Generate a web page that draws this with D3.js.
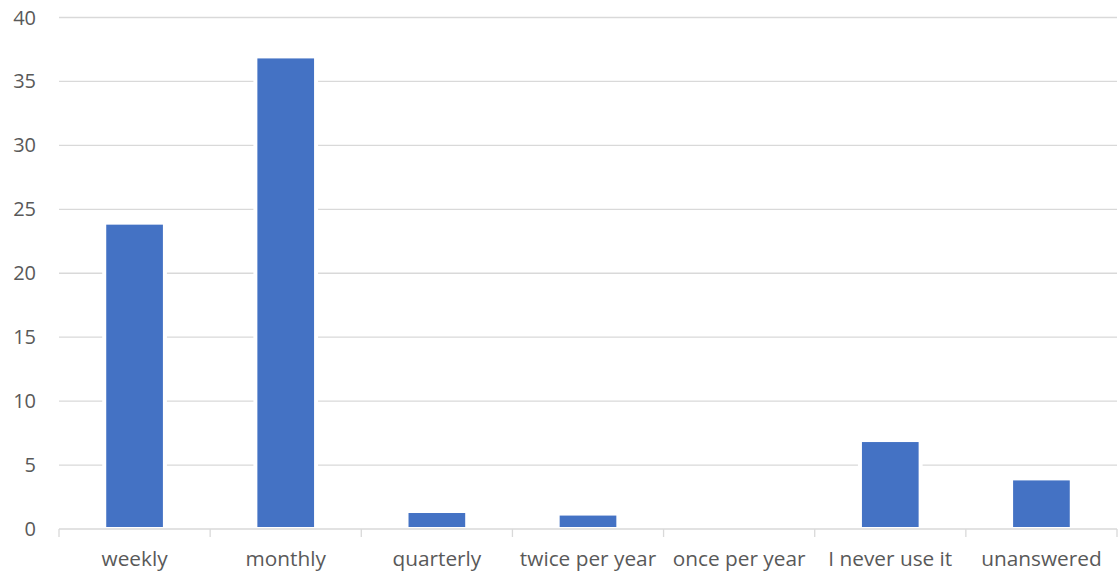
<!DOCTYPE html>
<html><head><meta charset="utf-8">
<script src="https://cdn.jsdelivr.net/npm/d3@7"></script>
<style>html,body{margin:0;padding:0;background:#fff;}svg{display:block;}</style>
</head><body>
<script>
const categories = ["weekly","monthly","quarterly","twice per year","once per year","I never use it","unanswered"];
const values = [23.8, 36.8, 1.25, 1.05, 0, 6.8, 3.8];
const yTicks = [0,5,10,15,20,25,30,35,40];

const W = 1119, H = 580;
const svg = d3.select("body").append("svg").attr("width", W).attr("height", H);
const font = "'Open Sans', sans-serif";

const x = d3.scaleBand().domain(categories).range([59, 1117]).paddingInner(0.625).paddingOuter(0.3125);
const y = d3.scaleLinear().domain([0, 40]).range([529, 17.5]);

// gridlines
svg.append("g").selectAll("line").data(yTicks.filter(d => d > 0)).join("line")
  .attr("x1", 59).attr("x2", 1117)
  .attr("y1", d => y(d)).attr("y2", d => y(d))
  .attr("stroke", "#d9d9d9").attr("stroke-width", 1.3);

// y labels
svg.append("g").selectAll("text").data(yTicks).join("text")
  .attr("x", 36).attr("y", d => y(d)).attr("dy", "0.35em")
  .attr("text-anchor", "end").attr("font-family", font).attr("font-size", 20)
  .attr("fill", "#595959").text(d => d);

// bars with white halo
const bars = svg.append("g");
bars.selectAll("rect.halo").data(values).join("rect").attr("class","halo")
  .attr("x", (d,i) => x(categories[i]) - 4)
  .attr("width", x.bandwidth() + 8)
  .attr("y", d => y(d) - 4)
  .attr("height", d => d > 0 ? y(0) - y(d) + 4 : 0)
  .attr("fill", "#fff");
bars.selectAll("rect.bar").data(values).join("rect").attr("class","bar")
  .attr("x", (d,i) => x(categories[i]))
  .attr("width", x.bandwidth())
  .attr("y", d => y(d))
  .attr("height", d => Math.max(0, y(0) - y(d) - 2))
  .attr("fill", "#4472c4");

// x axis line + ticks
svg.append("line").attr("x1", 59).attr("x2", 1117).attr("y1", y(0)).attr("y2", y(0))
  .attr("stroke", "#d9d9d9").attr("stroke-width", 1.3);
const step = x.step();
const boundaries = d3.range(categories.length + 1).map(i => 59 + i * step);
svg.append("g").selectAll("line").data(boundaries).join("line")
  .attr("x1", d => d).attr("x2", d => d).attr("y1", y(0)).attr("y2", y(0) + 8)
  .attr("stroke", "#d9d9d9").attr("stroke-width", 1.3);

// x labels
svg.append("g").selectAll("text").data(categories).join("text")
  .attr("x", d => x(d) + x.bandwidth() / 2).attr("y", 566)
  .attr("text-anchor", "middle").attr("font-family", font).attr("font-size", 20.8)
  .attr("fill", "#595959").text(d => d);
</script>
</body></html>
